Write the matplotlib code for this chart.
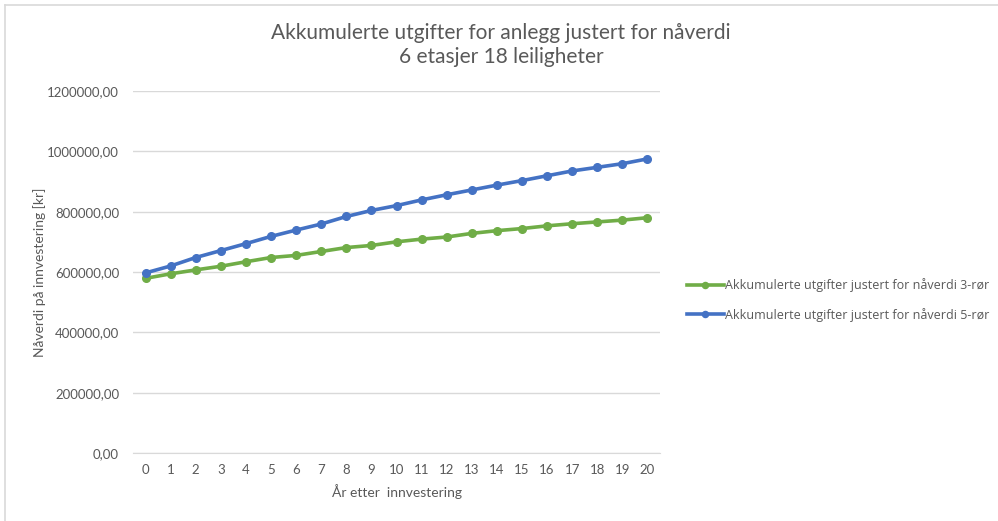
import matplotlib
matplotlib.use("Agg")
import matplotlib.pyplot as plt
from matplotlib.lines import Line2D
from matplotlib.ticker import FuncFormatter

years = list(range(0, 21))
tre_ror = [579000, 594000, 607000, 619000, 634000, 648000, 655000, 668000, 681000, 688000,
           700000, 709000, 716000, 728000, 737000, 744000, 753000, 760000, 766000, 772000, 780000]
fem_ror = [597000, 620000, 648000, 671000, 694000, 718000, 739000, 759000, 784000, 804000,
           820000, 839000, 856000, 872000, 888000, 903000, 919000, 935000, 947000, 959000, 975000]
labels = ["Akkumulerte utgifter justert for nåverdi 3-rør",
          "Akkumulerte utgifter justert for nåverdi 5-rør"]
title = "Akkumulerte utgifter for anlegg justert for nåverdi\n6 etasjer 18 leiligheter"
xlabel = "År etter  innvestering"
ylabel = "Nåverdi på innvestering [kr]"

plt.rcParams['font.family'] = ['Lato', 'DejaVu Sans']
txt = '#595959'

fig = plt.figure(figsize=(9.98, 5.21), dpi=100)
ax = fig.add_axes([133/998, 1-453/521, (660-133)/998, (453-91)/521])

ax.plot(years, tre_ror, color='#70AD47', lw=2.6, marker='o', ms=5.5, label=labels[0])
ax.plot(years, fem_ror, color='#4472C4', lw=2.6, marker='o', ms=5.5, label=labels[1])

ax.set_xlim(-0.5, 20.5)
ax.set_ylim(0, 1200000)
ax.set_yticks(range(0, 1200001, 200000))
ax.yaxis.set_major_formatter(FuncFormatter(lambda v, p: f"{int(v)},00"))
ax.set_xticks(years)
ax.grid(axis='y', color='#D9D9D9', lw=1)
ax.set_axisbelow(True)
for s in ['top', 'right', 'left']:
    ax.spines[s].set_visible(False)
ax.spines['bottom'].set_color('#D9D9D9')
ax.tick_params(axis='both', length=0, colors=txt, labelsize=9.5)
ax.tick_params(axis='x', pad=8)
ax.tick_params(axis='y', pad=10)

ax.set_xlabel(xlabel, color=txt, fontsize=10, labelpad=6)
ax.set_ylabel(ylabel, color=txt, fontsize=10, labelpad=1)
fig.text(0.502, 1-45/521, title, ha='center', va='center', color=txt, fontsize=15, linespacing=1.2)

leg = fig.legend(loc='center left', bbox_to_anchor=(676/998, 1-300/521), frameon=False,
                 prop={'family': ['Open Sans', 'DejaVu Sans'], 'size': 9.0},
                 handlelength=2.9, handletextpad=0.1, labelspacing=1.25,
                 labelcolor=txt, markerscale=0.8)

fig.add_artist(Line2D([5/998, 5/998], [0, 1-5/521], color='#D9D9D9', lw=1.2, transform=fig.transFigure))
fig.add_artist(Line2D([5/998, 1], [1-5/521, 1-5/521], color='#D9D9D9', lw=1.2, transform=fig.transFigure))

fig.savefig("out.png", dpi=100)
